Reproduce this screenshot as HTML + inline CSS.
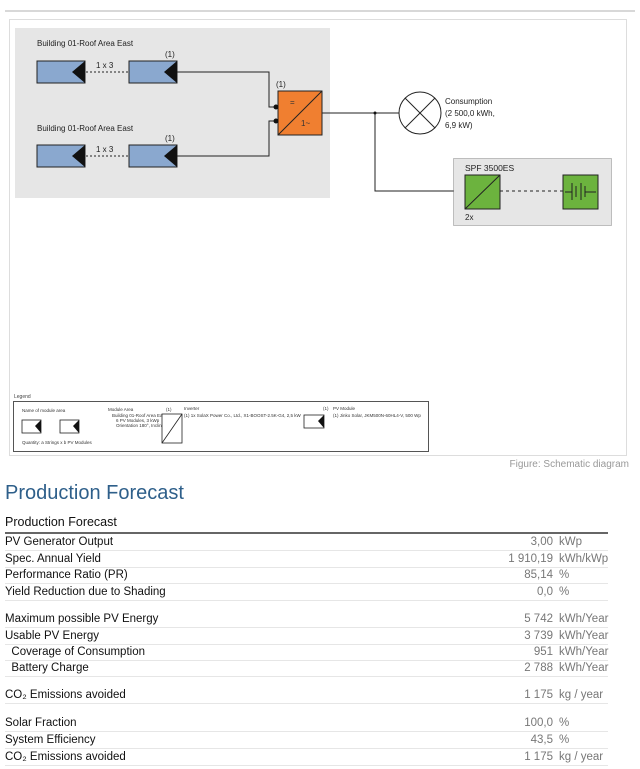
<!DOCTYPE html>
<html><head><meta charset="utf-8"><style>
body{margin:0;width:640px;height:769px;background:#fff;position:relative;overflow:hidden;font-family:"Liberation Sans",sans-serif}
.r{position:absolute;left:5px;width:603px;height:16px;font-size:11.5px;color:#111;border-bottom:1px solid #e6e6e6;line-height:16px}
.r .v{position:absolute;right:55px;color:#777}
.r .u{position:absolute;left:554px;color:#777}
</style></head><body>
<svg width="640" height="480" style="position:absolute;left:0;top:0" font-family="Liberation Sans, sans-serif">
<line x1="5" y1="11" x2="635" y2="11" stroke="#ccc" stroke-width="1.5"/>
<rect x="9.5" y="19.5" width="617" height="436" fill="#fff" stroke="#ddd"/>
<rect x="15" y="28" width="315" height="170" fill="#e6e6e6"/>
<g font-size="8" fill="#222">
<text x="37" y="46">Building 01-Roof Area East</text>
<text x="37" y="131">Building 01-Roof Area East</text>
<text x="165" y="57">(1)</text><text x="165" y="141">(1)</text>
<text x="96" y="68">1 x 3</text><text x="96" y="152">1 x 3</text>
<text x="276" y="87">(1)</text>
</g>
<g stroke="#222" stroke-width="1">
<rect x="37" y="61" width="48" height="22" fill="#8aa8cf"/>
<rect x="129" y="61" width="48" height="22" fill="#8aa8cf"/>
<rect x="37" y="145" width="48" height="22" fill="#8aa8cf"/>
<rect x="129" y="145" width="48" height="22" fill="#8aa8cf"/>
<line x1="86" y1="72" x2="128" y2="72" stroke-dasharray="2,2"/>
<line x1="86" y1="156" x2="128" y2="156" stroke-dasharray="2,2"/>
<polyline points="177,72 269,72 269,107 278,107" fill="none"/>
<polyline points="177,156 269,156 269,121 278,121" fill="none"/>
<rect x="278" y="91" width="44" height="44" fill="#f07f30"/>
<line x1="278" y1="135" x2="322" y2="91"/>
<polyline points="322,113 400,113" fill="none"/>
<circle cx="420" cy="113" r="21" fill="#fff"/>
<line x1="405" y1="98" x2="435" y2="128"/><line x1="435" y1="98" x2="405" y2="128"/>
<polyline points="375,113 375,191 465,191" fill="none"/>
</g>
<g fill="#111">
<polygon points="85,61 85,83 72,72"/><polygon points="177,61 177,83 164,72"/>
<polygon points="85,145 85,167 72,156"/><polygon points="177,145 177,167 164,156"/>
<circle cx="276" cy="107" r="2.5"/><circle cx="276" cy="121" r="2.5"/><circle cx="375" cy="113" r="1.5"/>
</g>
<text x="290" y="105" font-size="8" fill="#333">=</text><text x="301" y="126" font-size="8" fill="#333">1~</text>
<text x="445" y="104" font-size="8" fill="#222">Consumption</text>
<text x="445" y="116" font-size="8" fill="#222">(2 500,0 kWh,</text>
<text x="445" y="128" font-size="8" fill="#222">6,9 kW)</text>
<rect x="453.5" y="158.5" width="158" height="67" fill="#e6e6e6" stroke="#888" stroke-dasharray="1,1"/>
<text x="465" y="171" font-size="8.5" fill="#222">SPF 3500ES</text>
<text x="465" y="220" font-size="8" fill="#222">2x</text>
<g stroke="#222"><rect x="465" y="175" width="35" height="34" fill="#6cb33e"/><line x1="465" y1="209" x2="500" y2="175"/>
<line x1="500" y1="191" x2="563" y2="191" stroke-dasharray="3,3"/>
<rect x="563" y="175" width="35" height="34" fill="#6cb33e"/>
<line x1="565" y1="192" x2="572" y2="192"/><line x1="572" y1="183" x2="572" y2="200"/><line x1="576" y1="186" x2="576" y2="197"/><line x1="581" y1="183" x2="581" y2="200"/><line x1="585" y1="186" x2="585" y2="197"/><line x1="585" y1="192" x2="596" y2="192"/></g>
<text x="14" y="398" font-size="5" fill="#444">Legend</text>
<rect x="13.5" y="401.5" width="415" height="50" fill="#fff" stroke="#555"/>
<g font-size="4.5" fill="#333">
<text x="22" y="412">Name of module area</text><text x="108" y="411">Module Area</text>
<text x="112" y="417">Building 01-Roof Area East</text><text x="116" y="422">6 PV Modules, 3 kWp</text><text x="116" y="427">Orientation 180°, Inclination 15°</text>
<text x="22" y="444">Quantity: a Strings x b PV Modules</text><text x="65" y="429">a x b</text>
<text x="166" y="411">(1)</text><text x="184" y="410">Inverter</text><text x="184" y="417">(1) 1x SolaX Power Co., Ltd., X1-BOOST-2.5K-G4, 2,5 kW</text>
<text x="323" y="410">(1)</text><text x="333" y="410">PV Module</text><text x="333" y="417">(1) Jinko Solar, JKM500N-60HL4-V, 500 Wp</text>
</g>
<g stroke="#222" stroke-width="0.8" fill="#fff"><rect x="22" y="420" width="19" height="13"/><rect x="60" y="420" width="19" height="13"/>
<rect x="162" y="414" width="20" height="29"/><line x1="162" y1="443" x2="182" y2="414"/><rect x="304" y="415" width="20" height="13"/></g>
<g fill="#111"><polygon points="41,420 41,433 35,426"/><polygon points="79,420 79,433 73,426"/><polygon points="324,415 324,428 318,421"/></g>
<text x="629" y="467" font-size="10" fill="#999" text-anchor="end">Figure: Schematic diagram</text>
</svg>
<div style="position:absolute;left:5px;top:482px;font-size:20px;color:#2e5f8a">Production Forecast</div>
<div style="position:absolute;left:5px;top:515px;width:603px;font-size:12.5px;color:#111;border-bottom:2px solid #666;height:17px">Production Forecast</div>
<div class="r" style="top:534px">PV Generator Output<span class="v">3,00</span><span class="u">kWp</span></div>
<div class="r" style="top:551px">Spec. Annual Yield<span class="v">1 910,19</span><span class="u">kWh/kWp</span></div>
<div class="r" style="top:567px">Performance Ratio (PR)<span class="v">85,14</span><span class="u">%</span></div>
<div class="r" style="top:584px">Yield Reduction due to Shading<span class="v">0,0</span><span class="u">%</span></div>
<div class="r" style="top:611px">Maximum possible PV Energy<span class="v">5 742</span><span class="u">kWh/Year</span></div>
<div class="r" style="top:628px">Usable PV Energy<span class="v">3 739</span><span class="u">kWh/Year</span></div>
<div class="r" style="top:644px">&nbsp;&nbsp;Coverage of Consumption<span class="v">951</span><span class="u">kWh/Year</span></div>
<div class="r" style="top:660px">&nbsp;&nbsp;Battery Charge<span class="v">2 788</span><span class="u">kWh/Year</span></div>
<div class="r" style="top:687px">CO₂ Emissions avoided<span class="v">1 175</span><span class="u">kg / year</span></div>
<div class="r" style="top:715px">Solar Fraction<span class="v">100,0</span><span class="u">%</span></div>
<div class="r" style="top:732px">System Efficiency<span class="v">43,5</span><span class="u">%</span></div>
<div class="r" style="top:749px">CO₂ Emissions avoided<span class="v">1 175</span><span class="u">kg / year</span></div>
</body></html>
